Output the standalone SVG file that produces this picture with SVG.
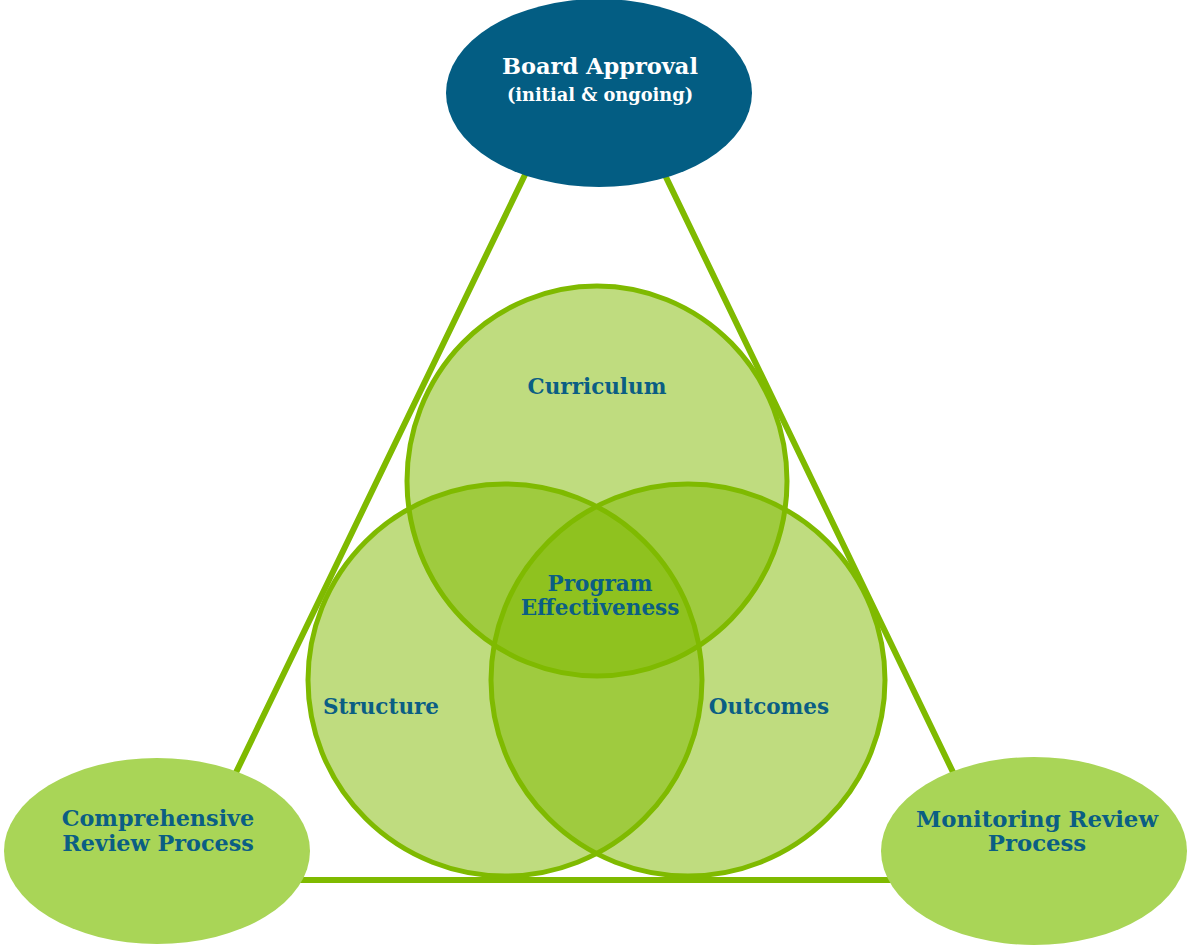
<svg xmlns="http://www.w3.org/2000/svg" width="1187" height="945" viewBox="0 0 1187 945">
<style>
.t{font-family:"DejaVu Serif","Liberation Serif",serif;font-weight:bold;text-anchor:middle;fill:#0b5e84}
.w{fill:#ffffff}
.c{fill:#7fba00;fill-opacity:0.5;stroke:#7fba00;stroke-width:5}
.g{fill:#a9d557}
</style>
<rect width="1187" height="945" fill="#ffffff"/>
<g id="connectors">
<polygon points="595,30 184,880 1005,880" fill="none" stroke="#7fba00" stroke-width="6" stroke-linejoin="miter"/>
</g>
<g id="curriculum"><ellipse class="c" cx="597" cy="481" rx="190" ry="195"/></g>
<g id="structure"><ellipse class="c" cx="505" cy="680" rx="197" ry="196"/></g>
<g id="outcomes"><ellipse class="c" cx="688" cy="680" rx="197" ry="196"/></g>
<g id="labels">
<text class="t" x="597" y="394" font-size="21.5">Curriculum</text>
<text class="t" x="600" y="591" font-size="21.5">Program</text>
<text class="t" x="600" y="615" font-size="21.5">Effectiveness</text>
<text class="t" x="381" y="714" font-size="21.5">Structure</text>
<text class="t" x="769" y="714" font-size="21.5">Outcomes</text>
</g>
<g id="board-approval">
<ellipse cx="599" cy="93" rx="153" ry="94" fill="#035d83"/>
<text class="t w" x="600" y="74" font-size="22.5">Board Approval</text>
<text class="t w" x="600" y="101" font-size="17.8">(initial &amp; ongoing)</text>
</g>
<g id="comprehensive-review">
<ellipse class="g" cx="157" cy="851" rx="153" ry="93"/>
<text class="t" x="158" y="826" font-size="22.3">Comprehensive</text>
<text class="t" x="158" y="851" font-size="22.3">Review Process</text>
</g>
<g id="monitoring-review">
<ellipse class="g" cx="1034" cy="851" rx="153" ry="94"/>
<text class="t" x="1037" y="827" font-size="22.8">Monitoring Review</text>
<text class="t" x="1037" y="851" font-size="22.8">Process</text>
</g>
</svg>
